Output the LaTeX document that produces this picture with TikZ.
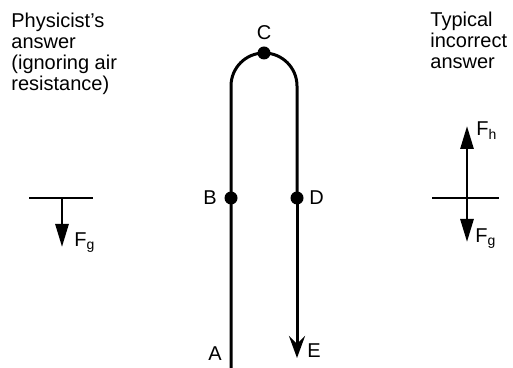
\documentclass[tikz,border=0pt]{standalone}
\usepackage{fontspec}
\setmainfont{Liberation Sans}
\usetikzlibrary{arrows.meta,positioning}

\begin{document}
\begin{tikzpicture}[x=0.5pt,y=-0.5pt,
  lbl/.style={inner sep=0pt,font=\fontsize{10}{10.5}\selectfont},
  dot/.style={circle,fill,inner sep=0pt,minimum size=6.5pt},
  track/.style={line width=1.5pt},
  level/.style={line width=1pt},
  force/.style={line width=1.4pt,-{Triangle[length=11.5pt,width=6.5pt]}}]
  \useasboundingbox (0,0) rectangle (513,368);
  % headings
  \node[lbl,anchor=north west,align=left] (phys) at (11,13)
    {Physicist's\\answer\\(ignoring air\\resistance)};
  \node[lbl,anchor=north west,align=left] (typ) at (430,12)
    {Typical\\incorrect\\answer};
  % the path of the ball
  \coordinate (A) at (231,368);
  \coordinate (E) at (297,358);
  \node[dot] (B) at (231,198) {};
  \node[dot] (C) at (264,53) {};
  \node[dot] (D) at (297,198) {};
  \draw[track] (A) -- (B.center) -- (231,86)
    arc[start angle=180,end angle=360,radius=33] -- (D.center);
  \draw[track,-{Stealth[length=11pt,width=8pt,inset=4pt]}] (D.center) -- (E);
  \node[lbl,left=3.5pt of B] (lB) {B};
  \node[lbl,above=3pt of C] (lC) {C};
  \node[lbl,right=2.5pt of D] (lD) {D};
  \node[lbl,anchor=base east] (lA) at (222,360) {A};
  \node[lbl,anchor=base west] (lE) at (307,357) {E};
  % physicist's answer
  \coordinate (pl) at (29,198);
  \coordinate (pr) at (93,198);
  \coordinate (p0) at (62,198);
  \coordinate (pg) at (62,247);
  \draw[level] (pl) -- (pr);
  \draw[force] (p0) -- (pg);
  \node[lbl,anchor=base west] (lpg) at (74,247) {F\textsubscript{g}};
  % typical incorrect answer
  \coordinate (tl) at (432,198);
  \coordinate (tr) at (499,198);
  \coordinate (t0) at (467,198);
  \coordinate (th) at (467,126);
  \coordinate (tg) at (467,242);
  \draw[level] (tl) -- (tr);
  \draw[force] (t0) -- (th);
  \draw[force] (t0) -- (tg);
  \node[lbl,anchor=base west] (lth) at (476,136) {F\textsubscript{h}};
  \node[lbl,anchor=base west] (ltg) at (475,243) {F\textsubscript{g}};
\end{tikzpicture}
\end{document}
